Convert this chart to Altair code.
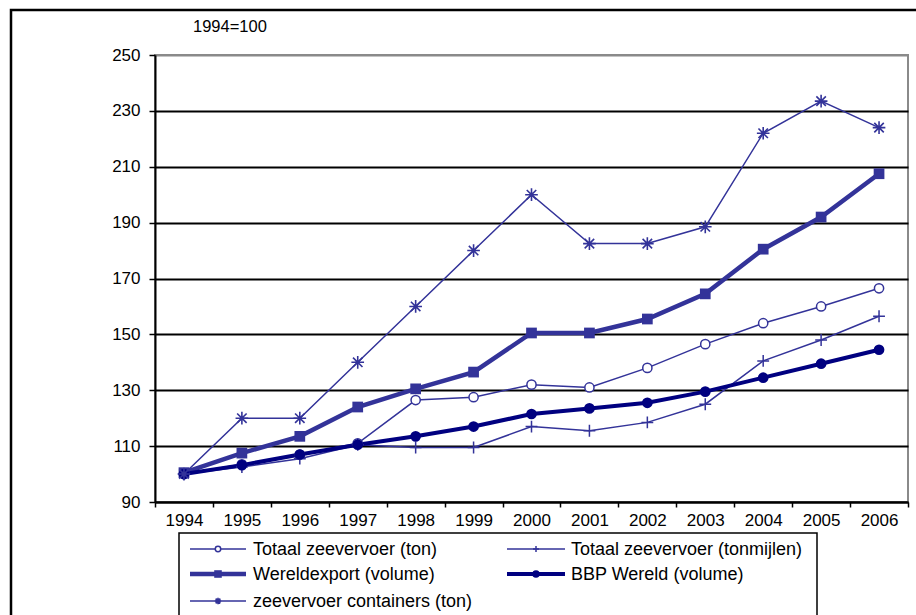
import altair as alt
import pandas as pd

years = [1994, 1995, 1996, 1997, 1998, 1999, 2000, 2001, 2002, 2003, 2004, 2005, 2006]
ton = [100, 103.5, 107, 111, 126.5, 127.5, 132, 131, 138, 146.5, 154, 160, 166.5]
tonmijlen = [100, 102.5, 105.5, 110.5, 109.5, 109.5, 117, 115.5, 118.5, 125, 140.5, 148, 156.5]
wereldexport = [100.5, 107.5, 113.5, 124, 130.5, 136.5, 150.5, 150.5, 155.5, 164.5, 180.5, 192, 207.5]
bbp = [100, 103.2, 107, 110.5, 113.5, 117, 121.5, 123.5, 125.5, 129.5, 134.5, 139.5, 144.5]
containers = [100, 120, 120, 140, 160, 180, 200, 182.5, 182.5, 188.5, 222, 233.5, 224]

names = ["Totaal zeevervoer (ton)", "Totaal zeevervoer (tonmijlen)",
         "Wereldexport (volume)", "BBP Wereld (volume)", "zeevervoer containers (ton)"]
series_values = [ton, tonmijlen, wereldexport, bbp, containers]
y_ticks = [90, 110, 130, 150, 170, 190, 210, 230, 250]
subtitle = "1994=100"

FONT = "Liberation Sans"
C1 = "#333399"
C2 = "#000080"
PLUS = "M-1,0L1,0M0,-1L0,1"
STAR = "M-1,0L1,0M0,-1L0,1M-0.75,-0.75L0.75,0.75M-0.75,0.75L0.75,-0.75"

styles = [
    dict(color=C1, lw=1.5, shape="circle", filled=False, size=85, sw=1.5),
    dict(color=C1, lw=1.5, shape=PLUS, filled=False, size=140, sw=1.5),
    dict(color=C1, lw=4.5, shape="square", filled=True, size=115, sw=0),
    dict(color=C2, lw=4, shape="circle", filled=True, size=115, sw=0),
    dict(color=C1, lw=1.5, shape=STAR, filled=False, size=160, sw=1.6),
]

rows = []
for name, vals in zip(names, series_values):
    for y, v in zip(years, vals):
        rows.append({"year": y, "value": v, "series": name})
df = pd.DataFrame(rows)

x_enc = alt.X("year:O",
              scale=alt.Scale(type="band", paddingInner=0, paddingOuter=0),
              axis=alt.Axis(title=None, labelAngle=0, tickBand="extent", tickSize=5,
                            labelPadding=5, grid=False, domainColor="black",
                            domainWidth=2, tickColor="black", tickWidth=1.5,
                            labelFont=FONT, labelFontSize=17, labelColor="black"))
y_enc = alt.Y("value:Q",
              scale=alt.Scale(domain=[90, 250], nice=False, zero=False),
              axis=alt.Axis(title=None, values=y_ticks, tickSize=6, labelPadding=9,
                            grid=True,
                            gridColor={"condition": {"test": "datum.value === 250", "value": "#8a8a8a"},
                                       "value": "black"},
                            gridWidth=2, domainColor="black", domainWidth=2,
                            tickColor="black", tickWidth=1.5,
                            labelFont=FONT, labelFontSize=17, labelColor="black"))

one = pd.DataFrame({"a": [0]})

layers = []

# outer border
layers.append(alt.Chart(one).mark_rect(fill=None, stroke="black", strokeWidth=2.5).encode(
    x=alt.value(-144), x2=alt.value(800), y=alt.value(-45), y2=alt.value(620)))

for name, st in zip(names, styles):
    base = alt.Chart(df).transform_filter(alt.datum.series == name)
    layers.append(base.mark_line(color=st["color"], strokeWidth=st["lw"]).encode(x=x_enc, y=y_enc))
for name, st in zip(names, styles):
    base = alt.Chart(df).transform_filter(alt.datum.series == name)
    if st["filled"]:
        pt = base.mark_point(shape=st["shape"], filled=True, fill=st["color"],
                             size=st["size"], opacity=1)
    elif st["shape"] == "circle":
        pt = base.mark_point(shape="circle", filled=False, fill="white", stroke=st["color"],
                             strokeWidth=st["sw"], size=st["size"], opacity=1)
    else:
        pt = base.mark_point(shape=st["shape"], filled=False, stroke=st["color"],
                             strokeWidth=st["sw"], size=st["size"], opacity=1)
    layers.append(pt.encode(x=x_enc, y=y_enc))

# subtitle
layers.append(alt.Chart(one).mark_text(text=subtitle, font=FONT, fontSize=16.5, align="left",
                                        baseline="middle", color="black").encode(
    x=alt.value(38), y=alt.value(-28)))

# legend box
layers.append(alt.Chart(one).mark_rect(fill="white", stroke="black", strokeWidth=1.5).encode(
    x=alt.value(24), x2=alt.value(662), y=alt.value(478), y2=alt.value(640)))

pos = [(0, 0), (1, 0), (0, 1), (1, 1), (0, 2)]
col_line = [(35, 91), (352, 410)]
col_text = [98, 416]
row_y = [494, 519, 546]
for name, st, (c, r) in zip(names, styles, pos):
    x1, x2 = col_line[c]
    yy = row_y[r]
    layers.append(alt.Chart(one).mark_rule(color=st["color"], strokeWidth=st["lw"]).encode(
        x=alt.value(x1), x2=alt.value(x2), y=alt.value(yy)))
    sz = st["size"] * 0.5
    if st["filled"]:
        lp = alt.Chart(one).mark_point(shape=st["shape"], filled=True, fill=st["color"],
                                       size=sz, opacity=1)
    elif st["shape"] == "circle":
        lp = alt.Chart(one).mark_point(shape="circle", filled=False, fill="white",
                                       stroke=st["color"], strokeWidth=st["sw"], size=sz * 0.7, opacity=1)
    else:
        lp = alt.Chart(one).mark_point(shape=st["shape"], filled=False, stroke=st["color"],
                                       strokeWidth=st["sw"], size=sz * 0.5, opacity=1)
    layers.append(lp.encode(x=alt.value((x1 + x2) / 2), y=alt.value(yy)))
    layers.append(alt.Chart(one).mark_text(text=name, font=FONT, fontSize=18, align="left",
                                            baseline="middle", color="black").encode(
        x=alt.value(col_text[c]), y=alt.value(yy + 1)))

chart = alt.layer(*layers).properties(
    width=753, height=447,
    autosize=alt.AutoSizeParams(type="none"),
    padding={"left": 155, "top": 55, "right": 8, "bottom": 113},
    background="white",
).configure_view(stroke="#8a8a8a", strokeWidth=2)

chart.save("out.html", embed_options={"renderer": "svg", "actions": False})
